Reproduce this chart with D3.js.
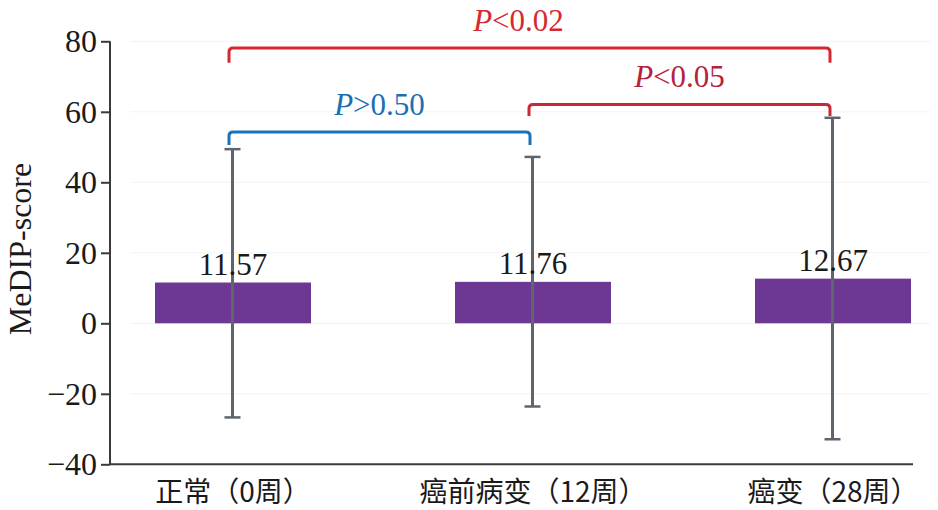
<!DOCTYPE html>
<html><head><meta charset="utf-8">
<script src="https://cdn.jsdelivr.net/npm/d3@7"></script>
<style>body{margin:0;background:#fff}svg{display:block}</style>
</head><body>
<svg id="c" width="938" height="510"></svg>
<script>
const categories = ['正常（0周）', '癌前病变（12周）', '癌变（28周）'];
const means = [11.57, 11.76, 12.67];
const upper = [49.4, 47.2, 58.3];
const lower = [-26.7, -23.6, -32.9];
const yTicks = [-40, -20, 0, 20, 40, 60, 80];
const brackets = [
  {from: 0, to: 2, y: 78.1, drop: 73.9, label: '<0.02', color: '#d7282f', text: '#d7282f', dx: -11},
  {from: 0, to: 1, y: 54.3, drop: 50.6, label: '>0.50', color: '#1a72b8', text: '#1a6fb3', dx: 0},
  {from: 1, to: 2, y: 62.1, drop: 58.8, label: '<0.05', color: '#c8283a', text: '#b5223b', dx: 0}
];

const svg = d3.select('#c');
const serif = '"Liberation Serif", "Times New Roman", serif';
const y = d3.scaleLinear().domain([-40, 80]).range([464.3, 41.3]);
const x = d3.scaleBand().domain(categories).range([110, 956]).paddingInner(0.48).paddingOuter(0.15);
const cx = c => x(c) + x.bandwidth() / 2;

// faint grid
svg.append('g').selectAll('line').data(yTicks.filter(d => d > -40)).join('line')
  .attr('x1', 130).attr('x2', 930).attr('y1', d => y(d)).attr('y2', d => y(d))
  .attr('stroke', '#f3f3f3').attr('stroke-width', 1);

// bars
svg.append('g').selectAll('rect').data(means).join('rect')
  .attr('x', (d, i) => x(categories[i]))
  .attr('width', x.bandwidth())
  .attr('y', d => y(d))
  .attr('height', d => y(0) - y(d))
  .attr('fill', '#6c3893');

// error bars
const eg = svg.append('g').attr('stroke', '#5e656d').attr('stroke-width', 3);
categories.forEach((c, i) => {
  const xc = cx(c) - 0.5;
  eg.append('line').attr('x1', xc).attr('x2', xc).attr('y1', y(upper[i])).attr('y2', y(lower[i]));
  eg.append('line').attr('x1', xc - 8).attr('x2', xc + 8).attr('y1', y(upper[i])).attr('y2', y(upper[i])).attr('stroke-width', 2.5);
  eg.append('line').attr('x1', xc - 8).attr('x2', xc + 8).attr('y1', y(lower[i])).attr('y2', y(lower[i])).attr('stroke-width', 2.5);
});

// value labels
svg.append('g').selectAll('text').data(means).join('text')
  .attr('x', (d, i) => cx(categories[i]))
  .attr('y', d => y(d) - 7.5)
  .attr('text-anchor', 'middle')
  .attr('font-family', serif).attr('font-size', 31).attr('fill', '#1a1a1a')
  .text(d => d.toFixed(2));

// y axis
const yAxis = svg.append('g').attr('transform', 'translate(110,0)')
  .call(d3.axisLeft(y).tickValues(yTicks).tickSize(9).tickPadding(4).tickFormat(d => d < 0 ? '\u2212' + Math.abs(d) : d));
yAxis.select('.domain').attr('stroke', '#3a3a3a').attr('stroke-width', 2).attr('d', `M0,${y(80)}V${y(-40)}`);
yAxis.selectAll('.tick line').attr('stroke', '#3a3a3a').attr('stroke-width', 2);
yAxis.selectAll('.tick text').attr('font-family', serif).attr('font-size', 32).attr('fill', '#1a1a1a');

// x axis
svg.append('line').attr('x1', 109).attr('x2', 913).attr('y1', y(-40)).attr('y2', y(-40))
  .attr('stroke', '#3a3a3a').attr('stroke-width', 2);
svg.append('g').selectAll('text').data(categories).join('text')
  .attr('x', d => cx(d)).attr('y', 490)
  .attr('text-anchor', 'middle').attr('dominant-baseline', 'central')
  .attr('font-family', '"Noto Sans CJK SC", sans-serif').attr('font-size', 28).attr('fill', '#1a1a1a')
  .text(d => d);

// y title
svg.append('text').attr('transform', 'translate(31,249) rotate(-90)')
  .attr('text-anchor', 'middle')
  .attr('font-family', serif).attr('font-size', 32).attr('fill', '#1a1a1a')
  .text('MeDIP-score');

// brackets
const bg = svg.append('g');
brackets.forEach(b => {
  const x1 = cx(categories[b.from]) - 4, x2 = cx(categories[b.to]) - 3;
  const yy = y(b.y), yd = y(b.drop), r = 4;
  bg.append('path')
    .attr('d', `M${x1},${yd}V${yy + r}Q${x1},${yy} ${x1 + r},${yy}H${x2 - r}Q${x2},${yy} ${x2},${yy + r}V${yd}`)
    .attr('fill', 'none').attr('stroke', b.color).attr('stroke-width', 3);
  const t = bg.append('text').attr('x', (x1 + x2) / 2 + b.dx).attr('y', yy - 17)
    .attr('text-anchor', 'middle').attr('font-family', serif).attr('font-size', 31).attr('fill', b.text);
  t.append('tspan').attr('font-style', 'italic').text('P');
  t.append('tspan').text(b.label);
});
</script>
</body></html>
